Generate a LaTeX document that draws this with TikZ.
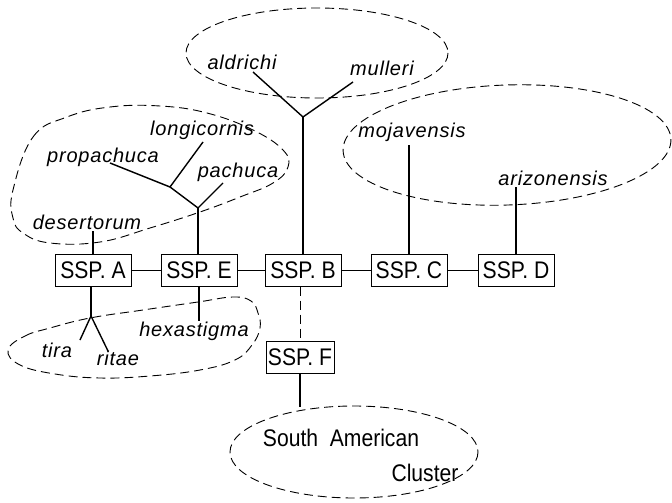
\documentclass[tikz,border=0pt]{standalone}
\usepackage{fontspec}
\newfontfamily\boxfont[FakeStretch=0.88]{Liberation Sans}
\newfontfamily\spfont[LetterSpace=4]{Liberation Sans}
\begin{document}
\begin{tikzpicture}[x=1pt,y=-1pt,
  ssp/.style={draw,line width=1pt,minimum width=76pt,minimum height=32pt,inner sep=0pt,
    font=\boxfont\fontsize{24}{24}\selectfont},
  sp/.style={inner sep=1pt,font=\spfont\itshape\fontsize{20}{20}\selectfont},
  big/.style={inner sep=0pt,font=\boxfont\fontsize{24}{24}\selectfont},
  tree/.style={line width=1.4pt},
  link/.style={line width=0.9pt},
  blob/.style={line width=0.9pt,dash pattern=on 9pt off 5pt}]
\useasboundingbox (0,0) rectangle (672,503);
% boxes
\node[ssp] (A) at (93,270) {SSP. A};
\node[ssp] (E) at (199,270) {SSP. E};
\node[ssp] (B) at (303,270) {SSP. B};
\node[ssp] (C) at (409,270) {SSP. C};
\node[ssp] (D) at (516,270) {SSP. D};
\node[ssp,minimum width=68pt] (F) at (300,357) {SSP. F};
% species labels
\node[sp] (des) at (87,222) {desertorum};
\node[sp] (pro) at (103,157) {propachuca};
\node[sp] (lon) at (202,130) {longicornis};
\node[sp] (pac) at (238,172) {pachuca};
\node[sp] (ald) at (242,62) {aldrichi};
\node[sp] (mul) at (382,68) {mulleri};
\node[sp] (moj) at (412,132) {mojavensis};
\node[sp] (ari) at (553,178) {arizonensis};
\node[sp] (tir) at (57,350) {tira};
\node[sp] (rit) at (118,358) {ritae};
\node[sp] (hex) at (194,331) {hexastigma};
\node[big] (sa1) at (341,438) {South\ \ American};
\node[big] (sa2) at (425,473) {Cluster};
% junctions and free ends
\coordinate (j1) at (170,187);
\coordinate (j2) at (198,208);
\coordinate (j3) at (303,117);
\coordinate (j4) at (91,316);
\coordinate (pe) at (110,163);
\coordinate (le) at (203,142);
\coordinate (pce) at (223,183);
\coordinate (ae) at (253,72);
\coordinate (me) at (353,82);
\coordinate (te) at (80,340);
\coordinate (re) at (108,351);
\coordinate (he) at (199,321);
\coordinate (moe) at (409,145);
\coordinate (are) at (516,187);
\coordinate (sae) at (300,407);
% blobs
\draw[blob] (317,53) ellipse (131 and 45);
\draw[blob,rotate around={2:(507,145)}] (507,145) ellipse (164 and 60);
\draw[blob] (354,452) ellipse (124 and 46);
\draw[blob] plot[smooth cycle,tension=0.7] coordinates {
  (13,190) (33,137) (67,117) (110,107) (160,106) (207,113) (253,130) (283,150)
  (288,167) (273,183) (240,197) (200,212) (150,228) (100,242) (50,243) (23,233) (13,218)};
\draw[blob] plot[smooth cycle,tension=0.7] coordinates {
  (8,350) (25,336) (50,328) (90,318) (143,310) (198,302) (233,297) (251,301)
  (258,313) (260,328) (252,345) (235,360) (200,370) (150,376) (100,378) (55,374) (20,365)};
% box links
\draw[link] (A) -- (E);
\draw[link] (E) -- (B);
\draw[link] (B) -- (C);
\draw[link] (C) -- (D);
\draw[link,dash pattern=on 9pt off 5pt] (B.south -| F.north) -- (F.north);
\draw[tree] (F.south) -- (sae);
% trees
\draw[tree] (A.north) -- (A.north |- des.south);
\draw[tree] (pe) -- (j1) -- (le);
\draw[tree] (j1) -- (j2) -- (pce);
\draw[tree] (j2) -- (E.north -| j2);
\draw[tree] (ae) -- (j3) -- (me);
\draw[tree] (j3) -- (B.north);
\draw[tree] (moe) -- (C.north |- moe) -- (C.north);
\draw[tree] (are) -- (D.north);
\draw[tree] (A.south -| j4) -- (j4);
\draw[tree] (te) -- (j4) -- (re);
\draw[tree] (E.south) -- (he);
\end{tikzpicture}
\end{document}
